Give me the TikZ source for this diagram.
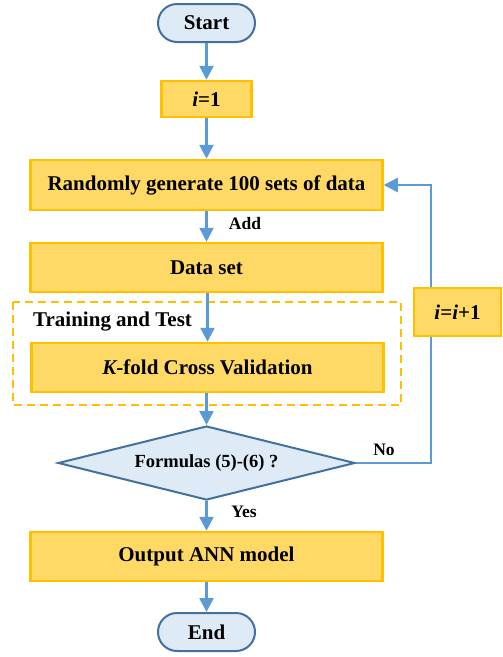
\documentclass[tikz,border=0pt]{standalone}
\usepackage{fontspec}
\setmainfont{Liberation Serif}
\usetikzlibrary{arrows.meta,shapes.geometric}
\definecolor{boxfill}{HTML}{FFD966}
\definecolor{boxline}{HTML}{FFC000}
\definecolor{termfill}{HTML}{DEEBF7}
\definecolor{termline}{HTML}{41719C}
\definecolor{flow}{HTML}{5B9BD5}
\tikzset{
  base/.style={font=\bfseries\fontsize{21}{25}\selectfont, inner sep=0pt, align=center},
  terminal/.style={base, draw=termline, fill=termfill, line width=2pt,
    rounded corners=19pt, minimum width=97pt, minimum height=38pt},
  process/.style={base, draw=boxline, fill=boxfill, line width=2.5pt,
    minimum height=49pt},
  wide/.style={process, minimum width=352pt},
  decision/.style={base, diamond, draw=termline, fill=termfill, line width=2pt,
    aspect=3.93, minimum width=297pt, minimum height=74pt,
    font=\bfseries\fontsize{18.5}{22}\selectfont},
  group/.style={draw=boxline, line width=2pt, dash pattern=on 8pt off 5pt},
  flowline/.style={draw=flow, line width=2.5pt},
  flowarrow/.style={flowline, -{Triangle[length=14pt,width=14pt]}},
  tag/.style={font=\bfseries\fontsize{17.5}{21}\selectfont, inner sep=0pt},
}
\begin{document}
\begin{tikzpicture}[x=1pt,y=-1pt]
\useasboundingbox (0,0) rectangle (503,657);

% grouping frame for training and test
\draw[group] (13,302) rectangle (401,405);
\node[base, anchor=west] (grouplabel) at (33,322) {Training and Test};

% main column
\node[terminal] (start) at (206.5,23) {Start};
\node[process, minimum width=90pt, minimum height=36pt] (init) at (206.5,99) {{\itshape i}=1};
\node[wide, minimum height=50pt] (rand) at (206.5,185) {Randomly generate 100 sets of data};
\node[wide] (data) at (206.5,267.5) {Data set};
\node[wide] (kfold) at (207.5,367.5) {{\itshape K}-fold Cross Validation};
\node[decision] (check) at (206.5,463) {Formulas (5)-(6) ?};
\node[wide] (out) at (206.5,556.5) {Output ANN model};
\node[terminal] (end) at (206.5,632) {End};

% loop counter
\node[process, minimum width=87pt, minimum height=48pt] (inc) at (457.5,312) {{\itshape i}={\itshape i}+1};

% connectors
\draw[flowarrow] (start) -- (init);
\draw[flowarrow] (init) -- (rand);
\draw[flowarrow] (rand) -- (data);
\draw[flowarrow] (data.south -| kfold.north) -- (kfold);
\draw[flowarrow] (kfold.south -| check.north) -- (check);
\draw[flowarrow] (check) -- (out);
\draw[flowarrow] (out) -- (end);
\draw[flowline] (check.east) -| ([xshift=-26.5pt]inc.south);
\draw[flowarrow] ([xshift=-26.5pt]inc.north) |- (rand.east);

% connector labels
\node[tag] (addlabel) at (245,224) {Add};
\node[tag] (yeslabel) at (244,512) {Yes};
\node[tag] (nolabel) at (384,450) {No};
\end{tikzpicture}
\end{document}
